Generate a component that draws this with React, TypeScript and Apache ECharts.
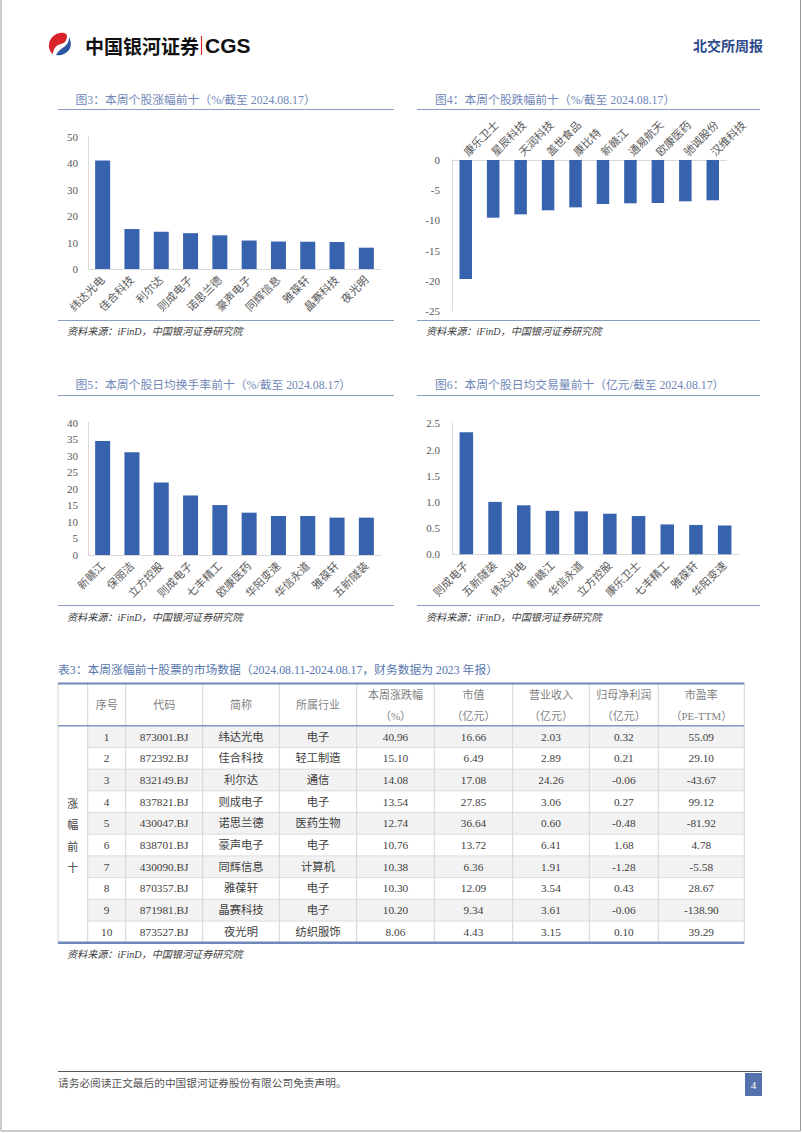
import React, { useEffect, useRef } from 'react';
import * as echarts from 'echarts';

// ---------- data ----------
const chart3Names = ['纬达光电', '佳合科技', '利尔达', '则成电子', '诺思兰德', '豪声电子', '同辉信息', '雅葆轩', '晶赛科技', '夜光明'];
const chart3Values = [40.96, 15.1, 14.08, 13.54, 12.74, 10.76, 10.38, 10.3, 10.2, 8.06];

const chart4Names = ['康乐卫士', '星辰科技', '天润科技', '盖世食品', '康比特', '新赣江', '通易航天', '欧康医药', '驰诚股份', '汉维科技'];
const chart4Values = [-19.7, -9.55, -9.0, -8.33, -7.84, -7.28, -7.17, -7.12, -6.84, -6.67];

const chart5Names = ['新赣江', '保丽洁', '立方控股', '则成电子', '七丰精工', '欧康医药', '华阳变速', '华信永道', '雅葆轩', '五新隧装'];
const chart5Values = [34.5, 31.1, 21.9, 18.0, 15.1, 12.8, 11.8, 11.8, 11.3, 11.3];

const chart6Names = ['则成电子', '五新隧装', '纬达光电', '新赣江', '华信永道', '立方控股', '康乐卫士', '七丰精工', '雅葆轩', '华阳变速'];
const chart6Values = [2.33, 1.0, 0.935, 0.83, 0.82, 0.775, 0.73, 0.57, 0.56, 0.55];

const chartTitles = [
  '图3：本周个股涨幅前十（%/截至 2024.08.17）',
  '图4：本周个股跌幅前十（%/截至 2024.08.17）',
  '图5：本周个股日均换手率前十（%/截至 2024.08.17）',
  '图6：本周个股日均交易量前十（亿元/截至 2024.08.17）',
];
const sourceText = '资料来源：iFinD，中国银河证券研究院';

const tableTitle = '表3：本周涨幅前十股票的市场数据（2024.08.11-2024.08.17，财务数据为 2023 年报）';
const tableHeaders1 = ['序号', '代码', '简称', '所属行业', '本周涨跌幅', '市值', '营业收入', '归母净利润', '市盈率'];
const tableHeaders2 = ['', '', '', '', '（%）', '（亿元）', '（亿元）', '（亿元）', '（PE-TTM）'];
const tableGroupLabel = ['涨', '幅', '前', '十'];
const tableRank = ['1', '2', '3', '4', '5', '6', '7', '8', '9', '10'];
const tableCode = ['873001.BJ', '872392.BJ', '832149.BJ', '837821.BJ', '430047.BJ', '838701.BJ', '430090.BJ', '870357.BJ', '871981.BJ', '873527.BJ'];
const tableName = ['纬达光电', '佳合科技', '利尔达', '则成电子', '诺思兰德', '豪声电子', '同辉信息', '雅葆轩', '晶赛科技', '夜光明'];
const tableIndustry = ['电子', '轻工制造', '通信', '电子', '医药生物', '电子', '计算机', '电子', '电子', '纺织服饰'];
const tableChange = ['40.96', '15.10', '14.08', '13.54', '12.74', '10.76', '10.38', '10.30', '10.20', '8.06'];
const tableMktCap = ['16.66', '6.49', '17.08', '27.85', '36.64', '13.72', '6.36', '12.09', '9.34', '4.43'];
const tableRevenue = ['2.03', '2.89', '24.26', '3.06', '0.60', '6.41', '1.91', '3.54', '3.61', '3.15'];
const tableProfit = ['0.32', '0.21', '-0.06', '0.27', '-0.48', '1.68', '-1.28', '0.43', '-0.06', '0.10'];
const tablePE = ['55.09', '29.10', '-43.67', '99.12', '-81.92', '4.78', '-5.58', '28.67', '-138.90', '39.29'];

const headerBrand = '中国银河证券';
const headerBrandEn = 'CGS';
const headerRight = '北交所周报';
const footerText = '请务必阅读正文最后的中国银河证券股份有限公司免责声明。';
const pageNumber = '4';

// ---------- styles ----------
const SERIF = '"Liberation Serif","Noto Sans CJK SC",serif';
const SANS_CN = '"Noto Sans CJK SC",sans-serif';
const BAR = '#3762AE';
const AXIS = '#D9D9D9';
const LABEL = '#595959';
const TITLE_C = '#6F87B8';
const RULE_C = '#8A9DC4';

echarts.graphic.registerShape(
  'cgsRed',
  echarts.graphic.extendPath('M16 1 C9 0 2 5 1 12 C0.5 16 2 20 5 22 C5 17 8 13 13 12 C17 11 19 8 19 4 C19 2.5 18 1.5 16 1 Z', {})
);
echarts.graphic.registerShape(
  'cgsBlue',
  echarts.graphic.extendPath('M21 5 C23 9 24 14 21 18 C18 22 13 24 8 23 C10 19 13 17 16 15 C19 13 21 10 21 5 Z', {})
);

function txt(t: string, x: number, y: number, size: number, fill: string, align = 'left', extra = '', family = SERIF) {
  return {
    type: 'text',
    x,
    y,
    silent: true,
    style: {
      text: t,
      font: `${extra} ${size}px ${family}`.trim(),
      fill,
      textAlign: align,
      textVerticalAlign: 'middle',
    },
  };
}
function hline(x1: number, x2: number, y: number, color: string, w: number) {
  return { type: 'line', silent: true, shape: { x1, y1: y, x2, y2: y }, style: { stroke: color, lineWidth: w } };
}
function vline(x: number, y1: number, y2: number, color: string, w: number) {
  return { type: 'line', silent: true, shape: { x1: x, y1, x2: x, y2 }, style: { stroke: color, lineWidth: w } };
}

function buildGraphic() {
  const g: any[] = [];
  // page border
  g.push(vline(1, 0, 1131, '#9A9A9A', 1));
  g.push(vline(800.5, 0, 1131, '#9A9A9A', 1));
  g.push(hline(1, 800.5, 1131, '#9A9A9A', 1));

  // header logo
  g.push({ type: 'cgsRed', x: 48, y: 32, silent: true, style: { fill: '#D9232B' } });
  g.push({ type: 'cgsBlue', x: 48, y: 32, silent: true, style: { fill: '#2D56A3' } });
  g.push(txt(headerBrand, 85, 45.5, 19, '#111111', 'left', 'bold', SANS_CN));
  g.push(vline(201.5, 36, 55, '#D9232B', 1.2));
  g.push(txt(headerBrandEn, 205, 45.5, 21, '#111111', 'left', 'bold', '"Liberation Sans",Arial,sans-serif'));
  g.push(txt(headerRight, 763, 45, 14, '#2B4A8B', 'right', 'bold', SANS_CN));

  // chart titles, rules, sources
  const blocks = [
    { tx: 75.5, ty: 100, x1: 58, x2: 394, ruleTop: 109.5, ruleBot: 320.5, sy: 331 },
    { tx: 435, ty: 100, x1: 417, x2: 760, ruleTop: 109.5, ruleBot: 320.5, sy: 331 },
    { tx: 75.5, ty: 385, x1: 58, x2: 394, ruleTop: 395.5, ruleBot: 605.5, sy: 617 },
    { tx: 435, ty: 385, x1: 417, x2: 760, ruleTop: 395.5, ruleBot: 605.5, sy: 617 },
  ];
  blocks.forEach((b, i) => {
    g.push(txt(chartTitles[i], b.tx, b.ty, 11.8, TITLE_C));
    g.push(hline(b.x1, b.x2, b.ruleTop, RULE_C, 1.2));
    g.push(hline(b.x1, b.x2, b.ruleBot, RULE_C, 1.2));
    g.push(txt(sourceText, b.x1 + 9, b.sy, 10.1, '#404040', 'left', 'italic'));
  });

  // table
  const cols = [58, 87.7, 125.7, 202.7, 279.3, 356.7, 434.3, 512.7, 589.3, 658.3, 744.3];
  const top = 683.5;
  const headBot = 725.7;
  const rowH = 21.7;
  const bottom = headBot + rowH * 10;
  g.push(txt(tableTitle, 58, 670, 11.8, '#5677AE'));
  for (let r = 0; r < 10; r++) {
    if (r % 2 === 0) {
      g.push({
        type: 'rect',
        silent: true,
        shape: { x: cols[1], y: headBot + r * rowH, width: cols[10] - cols[1], height: rowH },
        style: { fill: '#F2F2F2' },
      });
    }
  }
  for (let r = 1; r < 10; r++) g.push(hline(cols[1], cols[10], headBot + r * rowH, '#DCDCDC', 1));
  cols.forEach((x) => g.push(vline(x, top, bottom, '#D6D6D6', 1)));
  g.push(hline(cols[0], cols[10], top, '#6E89B9', 2));
  g.push(hline(cols[0], cols[10], headBot, '#7F96C2', 1.6));
  g.push(hline(cols[0], cols[10], bottom, '#6E89B9', 2.5));

  const centers = cols.slice(0, 10).map((x, i) => (x + cols[i + 1]) / 2);
  tableHeaders1.forEach((h, i) => {
    const cx = centers[i + 1];
    if (tableHeaders2[i]) {
      g.push(txt(h, cx, 694.5, 11, '#7F7F7F', 'center'));
      g.push(txt(tableHeaders2[i], cx, 716, 11, '#7F7F7F', 'center'));
    } else {
      g.push(txt(h, cx, 705, 11, '#7F7F7F', 'center'));
    }
  });
  tableGroupLabel.forEach((ch, i) => g.push(txt(ch, centers[0], 803.5 + i * 21.6, 11, '#404040', 'center')));
  const columnsData = [tableRank, tableCode, tableName, tableIndustry, tableChange, tableMktCap, tableRevenue, tableProfit, tablePE];
  columnsData.forEach((col, ci) => {
    col.forEach((v, r) => {
      g.push(txt(v, centers[ci + 1], headBot + rowH * (r + 0.5), 11.3, '#404040', 'center'));
    });
  });
  g.push(txt(sourceText, 67, 954, 10.1, '#404040', 'left', 'italic'));

  // footer
  g.push(hline(58, 762, 1071.5, '#555555', 1.2));
  g.push(txt(footerText, 58, 1083, 10.7, '#555555'));
  g.push({ type: 'rect', silent: true, shape: { x: 745, y: 1073, width: 17, height: 23 }, style: { fill: '#5473AE' } });
  g.push(txt(pageNumber, 753.5, 1085, 11, '#FFFFFF', 'center'));
  return g;
}

function xAxisCfg(names: string[], gridIndex: number, position: 'top' | 'bottom') {
  return {
    type: 'category',
    gridIndex,
    position,
    data: names,
    axisLine: { show: true, lineStyle: { color: AXIS, width: 1 } },
    axisTick: { show: false },
    axisLabel: { interval: 0, rotate: 45, fontSize: 11, color: LABEL, fontFamily: SERIF, margin: position === 'top' ? 6 : 9 },
    splitLine: { show: false },
  };
}
function yAxisCfg(gridIndex: number, min: number, max: number, interval: number, margin: number, digits: number) {
  return {
    type: 'value',
    gridIndex,
    min,
    max,
    interval,
    axisLine: { show: true, lineStyle: { color: AXIS, width: 1 } },
    axisTick: { show: false },
    splitLine: { show: false },
    axisLabel: {
      fontSize: 11,
      color: LABEL,
      fontFamily: SERIF,
      margin,
      formatter: (v: number) => v.toFixed(digits),
    },
  };
}

export default function App() {
  const ref = useRef<HTMLDivElement>(null);
  useEffect(() => {
    if (!ref.current) return;
    const chart = echarts.init(ref.current, null, { renderer: 'svg' });
    const gridBase = { containLabel: false, outerBoundsMode: 'none' };
    const option: any = {
      animation: false,
      backgroundColor: '#FFFFFF',
      grid: [
        { ...gridBase, left: 88, top: 136.7, width: 293, height: 132.3 },
        { ...gridBase, left: 452, top: 160, width: 274.5, height: 151 },
        { ...gridBase, left: 88, top: 422.7, width: 293, height: 132.3 },
        { ...gridBase, left: 452, top: 423.3, width: 287, height: 131 },
      ],
      xAxis: [
        xAxisCfg(chart3Names, 0, 'bottom'),
        xAxisCfg(chart4Names, 1, 'top'),
        xAxisCfg(chart5Names, 2, 'bottom'),
        xAxisCfg(chart6Names, 3, 'bottom'),
      ],
      yAxis: [
        yAxisCfg(0, 0, 50, 10, 10, 0),
        yAxisCfg(1, -25, 0, 5, 12, 0),
        yAxisCfg(2, 0, 40, 5, 10, 0),
        yAxisCfg(3, 0, 2.5, 0.5, 12, 1),
      ],
      series: [
        { type: 'bar', xAxisIndex: 0, yAxisIndex: 0, data: chart3Values, barWidth: 15, itemStyle: { color: BAR } },
        { type: 'bar', xAxisIndex: 1, yAxisIndex: 1, data: chart4Values, barWidth: 12.5, itemStyle: { color: BAR } },
        { type: 'bar', xAxisIndex: 2, yAxisIndex: 2, data: chart5Values, barWidth: 15, itemStyle: { color: BAR } },
        { type: 'bar', xAxisIndex: 3, yAxisIndex: 3, data: chart6Values, barWidth: 13.5, itemStyle: { color: BAR } },
      ],
      graphic: buildGraphic(),
    };
    chart.setOption(option);
    return () => chart.dispose();
  }, []);
  return (
    <div
      ref={ref}
      style={{ position: 'absolute', left: 0, top: 0, width: 802, height: 1133, background: '#FFFFFF' }}
    />
  );
}
